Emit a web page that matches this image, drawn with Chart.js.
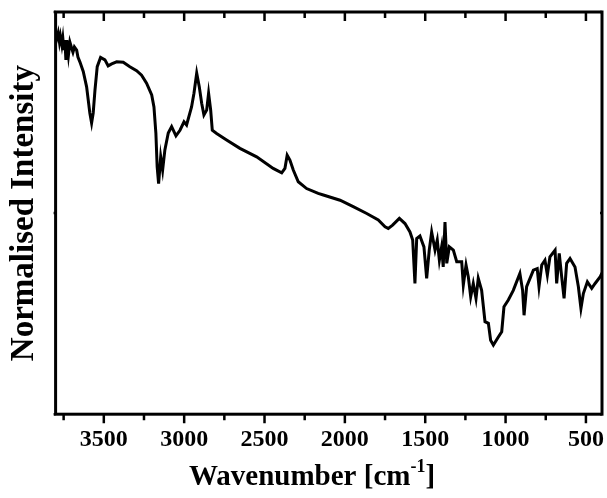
<!DOCTYPE html>
<html>
<head>
<meta charset="utf-8">
<script src="https://cdn.jsdelivr.net/npm/chart.js@4/dist/chart.umd.min.js"></script>
<style>
  body { margin: 0; background: #fff; }
  #wrap { width: 607px; height: 498px; }
</style>
</head>
<body>
<div id="wrap"><canvas id="irChart" width="607" height="498"></canvas></div>
<script>
// IR spectrum (intensity normalised 0 = bottom, 1 = top of frame)
const wavenumber = [
    3800, 3792, 3784, 3776, 3770, 3761, 3755, 3748, 3742, 3736, 3730, 3720, 3711, 3700,
    3692, 3683, 3669, 3661, 3649, 3628, 3607, 3587, 3576, 3566, 3555, 3541, 3520, 3493,
    3473, 3451, 3420, 3379, 3338, 3296, 3265, 3234, 3202, 3188, 3176, 3168, 3159, 3146,
    3134, 3120, 3099, 3078, 3051, 3026, 3001, 2985, 2954, 2939, 2922, 2906, 2891, 2877,
    2860, 2848, 2835, 2825, 2798, 2736, 2653, 2549, 2446, 2393, 2373, 2359, 2342, 2321,
    2290, 2238, 2166, 2134, 2030, 1948, 1864, 1792, 1750, 1730, 1703, 1661, 1626, 1595,
    1578, 1564, 1553, 1533, 1508, 1491, 1475, 1460, 1439, 1425, 1412, 1398, 1388, 1377,
    1366, 1350, 1325, 1304, 1273, 1263, 1246, 1232, 1217, 1201, 1184, 1170, 1149, 1128,
    1107, 1093, 1076, 1045, 1024, 1010, 983, 952, 911, 894, 885, 869, 827, 803,
    792, 775, 755, 740, 724, 692, 682, 666, 651, 636, 620, 599, 568, 547,
    531, 516, 491, 464, 443, 411, 400
];
const intensity = [
    0.948, 0.935, 0.948, 0.925, 0.940, 0.918, 0.935, 0.905, 0.930, 0.881, 0.930, 0.893, 0.925, 0.910,
    0.900, 0.913, 0.905, 0.888, 0.876, 0.852, 0.814, 0.749, 0.724, 0.749, 0.806, 0.864, 0.887, 0.881,
    0.866, 0.871, 0.876, 0.875, 0.864, 0.854, 0.843, 0.823, 0.794, 0.764, 0.699, 0.615, 0.573, 0.640,
    0.607, 0.657, 0.699, 0.715, 0.692, 0.706, 0.727, 0.719, 0.764, 0.798, 0.848, 0.814, 0.773, 0.744,
    0.756, 0.798, 0.756, 0.706, 0.698, 0.682, 0.661, 0.640, 0.611, 0.600, 0.611, 0.644, 0.632, 0.607,
    0.578, 0.561, 0.549, 0.545, 0.532, 0.516, 0.499, 0.483, 0.466, 0.462, 0.470, 0.487, 0.474, 0.453,
    0.433, 0.325, 0.437, 0.443, 0.416, 0.338, 0.408, 0.453, 0.408, 0.433, 0.383, 0.416, 0.366, 0.478,
    0.375, 0.416, 0.408, 0.379, 0.379, 0.321, 0.371, 0.342, 0.292, 0.325, 0.288, 0.338, 0.308, 0.230,
    0.226, 0.184, 0.172, 0.192, 0.205, 0.267, 0.284, 0.308, 0.350, 0.308, 0.246, 0.317, 0.358, 0.362,
    0.317, 0.371, 0.383, 0.346, 0.391, 0.408, 0.325, 0.400, 0.342, 0.288, 0.375, 0.387, 0.366, 0.317,
    0.263, 0.300, 0.329, 0.313, 0.325, 0.342, 0.351
];
const xMajorTicks = [3500, 3000, 2500, 2000, 1500, 1000, 500];
const xMinorTicks = [3750, 3250, 2750, 2250, 1750, 1250, 750];
const yTicks = [0, 0.5, 1];

const FONT = '"Liberation Serif", "Times New Roman", serif';

// frame, tick marks and the x title with a real superscript
const framePlugin = {
    id: 'frame',
    afterDatasetsDraw(chart) {
        const {ctx, chartArea: a, scales: {x, y}} = chart;
        ctx.save();
        ctx.strokeStyle = '#000';
        ctx.lineWidth = 3;
        ctx.strokeRect(a.left, a.top, a.right - a.left, a.bottom - a.top);

        ctx.lineWidth = 2.5;
        ctx.beginPath();
        const tick = (v, len) => {
            const px = x.getPixelForValue(v);
            ctx.moveTo(px, a.bottom); ctx.lineTo(px, a.bottom + len);
            ctx.moveTo(px, a.top); ctx.lineTo(px, a.top + len);
        };
        xMajorTicks.forEach(v => tick(v, 9));
        xMinorTicks.forEach(v => tick(v, 6));
        yTicks.forEach(v => {
            const py = y.getPixelForValue(v);
            ctx.moveTo(a.left - 2, py); ctx.lineTo(a.left, py);
            ctx.moveTo(a.right, py); ctx.lineTo(a.right - 2, py);
        });
        ctx.stroke();

        // x axis title
        const main = 'Wavenumber [cm';
        const sup = '-1';
        const end = ']';
        ctx.fillStyle = '#000';
        ctx.textBaseline = 'alphabetic';
        ctx.font = 'bold 29px ' + FONT;
        const w1 = ctx.measureText(main).width;
        const w3 = ctx.measureText(end).width;
        ctx.font = 'bold 18px ' + FONT;
        const w2 = ctx.measureText(sup).width;
        let tx = 312 - (w1 + w2 + w3) / 2;
        const base = 485;
        ctx.font = 'bold 29px ' + FONT;
        ctx.fillText(main, tx, base);
        tx += w1;
        ctx.font = 'bold 18px ' + FONT;
        ctx.fillText(sup, tx, base - 13);
        tx += w2;
        ctx.font = 'bold 29px ' + FONT;
        ctx.fillText(end, tx, base);
        ctx.restore();
    }
};

const ctxIR = document.getElementById('irChart').getContext('2d');
const chartIR = new Chart(ctxIR, {
    type: 'line',
    data: {
        datasets: [{
            data: wavenumber.map((w, i) => ({x: w, y: intensity[i]})),
            borderColor: '#000',
            borderWidth: 3,
            pointRadius: 0,
            fill: false,
            tension: 0
        }]
    },
    options: {
        responsive: false,
        animation: false,
        events: [],
        layout: {
            padding: {top: 12, right: 5, bottom: 33, left: 1}
        },
        plugins: {
            legend: {display: false},
            tooltip: {enabled: false}
        },
        scales: {
            x: {
                type: 'linear',
                reverse: true,
                min: 400,
                max: 3800,
                afterBuildTicks: scale => {
                    scale.ticks = xMajorTicks.map(v => ({value: v}));
                },
                afterFit: scale => {
                    scale.paddingRight = 0;
                },
                grid: {display: false, drawTicks: false},
                border: {display: false},
                ticks: {
                    autoSkip: false,
                    maxRotation: 0,
                    padding: 11,
                    color: '#000',
                    font: {family: FONT, size: 24, weight: 'bold'},
                    callback: value => String(value)
                }
            },
            y: {
                min: 0,
                max: 1,
                afterBuildTicks: scale => {
                    scale.ticks = yTicks.map(v => ({value: v}));
                },
                grid: {display: false, drawTicks: false},
                border: {display: false},
                ticks: {display: false},
                title: {
                    display: true,
                    text: 'Normalised Intensity',
                    color: '#000',
                    padding: {top: 4, bottom: 11},
                    font: {family: FONT, size: 33, weight: 'bold'}
                }
            }
        }
    },
    plugins: [framePlugin]
});
</script>
</body>
</html>
